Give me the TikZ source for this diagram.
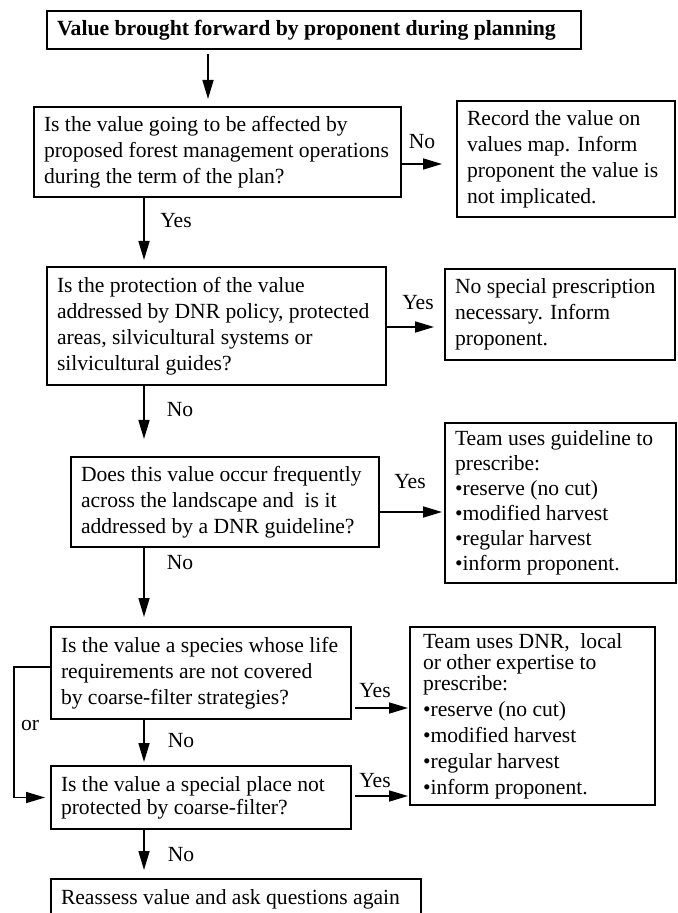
\documentclass[tikz,border=0pt]{standalone}
\usepackage{fontspec}
\setmainfont{Liberation Serif}
\usetikzlibrary{arrows.meta}

\begin{document}
\begin{tikzpicture}[
    x=0.5pt, y=-0.5pt,
    box/.style={rectangle, draw, line width=1pt, inner xsep=5pt, inner ysep=0pt,
                align=flush left, anchor=north west,
                font=\fontsize{10.8pt}{13pt}\selectfont},
    lbl/.style={font=\fontsize{10.8pt}{13pt}\selectfont, inner sep=0pt},
    arrow/.style={-{Triangle[length=9.5pt, width=5.5pt]}, line width=0.8pt},
]
    \useasboundingbox (0,0) rectangle (677,913);

    % --- Main column of questions ---
    \node[box, text width=257pt, minimum height=19pt,
          font=\fontsize{10.85pt}{13pt}\selectfont\bfseries]
        (start) at (46,10) {Value brought forward by proponent during planning};
    \node[box, text width=173.5pt, minimum height=45pt] (q1) at (33,106)
        {Is the value going to be affected by\\proposed forest management operations\\during the term of the plan?};
    \node[box, text width=159.5pt, minimum height=59pt] (q2) at (46,266)
        {Is the protection of the value\\addressed by DNR policy, protected\\areas, silvicultural systems or\\silvicultural guides?};
    \node[box, text width=144pt, minimum height=45pt] (q3) at (70,456)
        {Does this value occur frequently\\across the landscape and\ \ is it\\addressed by a DNR guideline?};
    \node[box, text width=145pt, inner xsep=2.5pt, minimum height=46pt] (q4) at (50,626)
        {\hspace*{2.5pt}Is the value a species whose life\\\hspace*{2.5pt}requirements are not covered\\\hspace*{2.5pt}by coarse-filter strategies?};
    \node[box, text width=140pt, minimum height=31.5pt,
          font=\fontsize{10.8pt}{11.5pt}\selectfont] (q5) at (50,765)
        {Is the value a special place not\\protected by coarse-filter?};
    \node[box, text width=175pt, minimum height=20pt] (redo) at (50,878)
        {Reassess value and ask questions again};

    % --- Outcomes on the right ---
    \node[box, text width=99pt, minimum height=58pt] (rec) at (456,100)
        {Record the value on\\values map. Inform\\proponent the value is\\not implicated.};
    \node[box, text width=105pt, minimum height=45.5pt] (nospec) at (444,268)
        {No special prescription\\necessary. Inform\\proponent.};
    \node[box, text width=105.5pt, minimum height=80pt,
          font=\fontsize{10.8pt}{12.5pt}\selectfont] (guide) at (444,422)
        {Team uses guideline to\\prescribe:\\\textbullet reserve (no cut)\\\textbullet modified harvest\\\textbullet regular harvest\\\textbullet inform proponent.};
    \node[box, text width=109.5pt, inner xsep=6.5pt, minimum height=89pt] (expert) at (409,626)
        {{\baselineskip=10.5pt Team uses DNR,\ \ local\\or other expertise to\\prescribe:\par}%
         \textbullet reserve (no cut)\\\textbullet modified harvest\\\textbullet regular harvest\\\textbullet inform proponent.};

    % --- Guide coordinates ---
    \coordinate (topx)  at (208,0);
    \coordinate (spine) at (144,0);
    \coordinate (rowA)  at (0,164);
    \coordinate (rowB)  at (0,327);
    \coordinate (rowC)  at (0,512);
    \coordinate (rowD)  at (0,708);
    \coordinate (rowE)  at (0,796);

    % --- Downward flow ---
    \draw[arrow, shorten <=2pt, shorten >=3.5pt] (start.south -| topx) -- (q1.north -| topx);
    \draw[arrow, shorten >=3pt]   (q1.south -| spine) -- (q2.north -| spine);
    \draw[arrow, shorten >=8.5pt] (q2.south -| spine) -- (q3.north -| spine);
    \draw[arrow, shorten >=4.5pt] (q3.south -| spine) -- (q4.north -| spine);
    \draw[arrow, shorten >=1.5pt] (q4.south -| spine) -- (q5.north -| spine);
    \draw[arrow, shorten >=4pt]   (q5.south -| spine) -- (redo.north -| spine);

    % --- Branches to the right ---
    \draw[arrow, shorten >=7pt]   (q1.east |- rowA) -- (rec.west |- rowA);
    \draw[arrow, shorten >=5pt]   (q2.east |- rowB) -- (nospec.west |- rowB);
    \draw[arrow, shorten >=1pt]   (q3.east |- rowC) -- (guide.west |- rowC);
    \draw[arrow, shorten <=1.5pt, shorten >=0.5pt] (q4.east |- rowD) -- (expert.west |- rowD);
    \draw[arrow, shorten <=1.5pt, shorten >=0.5pt] (q5.east |- rowE) -- (expert.west |- rowE);

    % "or" bypass on the left
    \draw[arrow, shorten >=2.5pt] ([yshift=3pt]q4.west) -- ++(-18pt,0) |- (q5.west);

    % --- Labels ---
    \node[lbl] (lblNoA)  at (422,142) {No};
    \node[lbl] (lblYesA) at (176,221) {Yes};
    \node[lbl] (lblYesB) at (418,303) {Yes};
    \node[lbl] (lblNoB)  at (180,410) {No};
    \node[lbl] (lblYesC) at (410,482) {Yes};
    \node[lbl] (lblNoC)  at (180,563) {No};
    \node[lbl] (lblYesD) at (375,691) {Yes};
    \node[lbl] (lblOr)   at (30,726)  {or};
    \node[lbl] (lblNoD)  at (181,741) {No};
    \node[lbl] (lblYesE) at (375,781) {Yes};
    \node[lbl] (lblNoE)  at (181,855) {No};
\end{tikzpicture}
\end{document}
